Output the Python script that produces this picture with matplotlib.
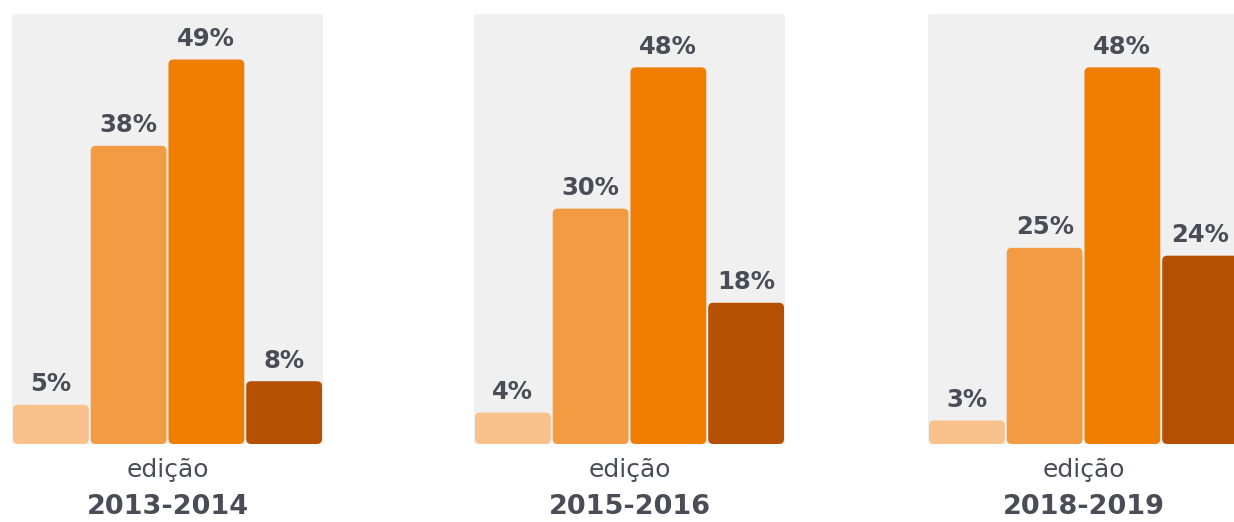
import matplotlib
matplotlib.use("Agg")
import matplotlib.pyplot as plt
from matplotlib.patches import FancyBboxPatch

# ---- data ----
editions = ["2013-2014", "2015-2016", "2018-2019"]
values_2013 = [5, 38, 49, 8]
values_2015 = [4, 30, 48, 18]
values_2018 = [3, 25, 48, 24]
all_values = [values_2013, values_2015, values_2018]
bar_colors = ["#F9C18B", "#F39B43", "#EF7D00", "#B55003"]

TEXT = "#4A4D57"
BG = "#F0F0F0"
W, H = 1234, 522
DPI = 100
plt.rcParams['font.family'] = ['DejaVu Sans']

fig = plt.figure(figsize=(W / DPI, H / DPI), dpi=DPI)
fig.patch.set_facecolor("white")

panel_left_px = [12, 474, 928]
panel_w_px = 311
top_px, base_px = 14, 444
ymax = 54.8
bar_w = 0.975

for left, vals, ed in zip(panel_left_px, all_values, editions):
    ax = fig.add_axes([left / W, (H - base_px) / H, panel_w_px / W, (base_px - top_px) / H])
    ax.set_xlim(-0.5, 3.5)
    ax.set_ylim(0, ymax)
    ax.axis("off")
    xpx = panel_w_px / 4.0
    ypx = (base_px - top_px) / ymax
    aspect = xpx / ypx
    bg = FancyBboxPatch((-0.5, 0), 4.0, ymax,
                        boxstyle="round,pad=0,rounding_size=%f" % (3 / xpx),
                        mutation_aspect=aspect, facecolor=BG, edgecolor="none",
                        zorder=0, clip_on=False)
    ax.add_patch(bg)
    for i, (v, c) in enumerate(zip(vals, bar_colors)):
        p = FancyBboxPatch((i - bar_w / 2, 0), bar_w, v,
                           boxstyle="round,pad=0,rounding_size=%f" % (5 / xpx),
                           mutation_aspect=aspect, facecolor=c, edgecolor="none",
                           zorder=2, clip_on=False)
        ax.add_patch(p)
        ax.annotate(f"{v}%", (i, v), xytext=(0, 6), textcoords="offset points",
                    ha="center", va="bottom", fontsize=17.5, fontweight="bold",
                    color=TEXT, zorder=3, annotation_clip=False)
    cx = (left + panel_w_px / 2) / W
    fig.text(cx, (H - 470) / H, "edição", ha="center", va="center",
             fontsize=18, color=TEXT)
    fig.text(cx, (H - 507) / H, ed, ha="center", va="center",
             fontsize=19.5, fontweight="bold", color=TEXT)

fig.savefig("out.png", dpi=DPI)
